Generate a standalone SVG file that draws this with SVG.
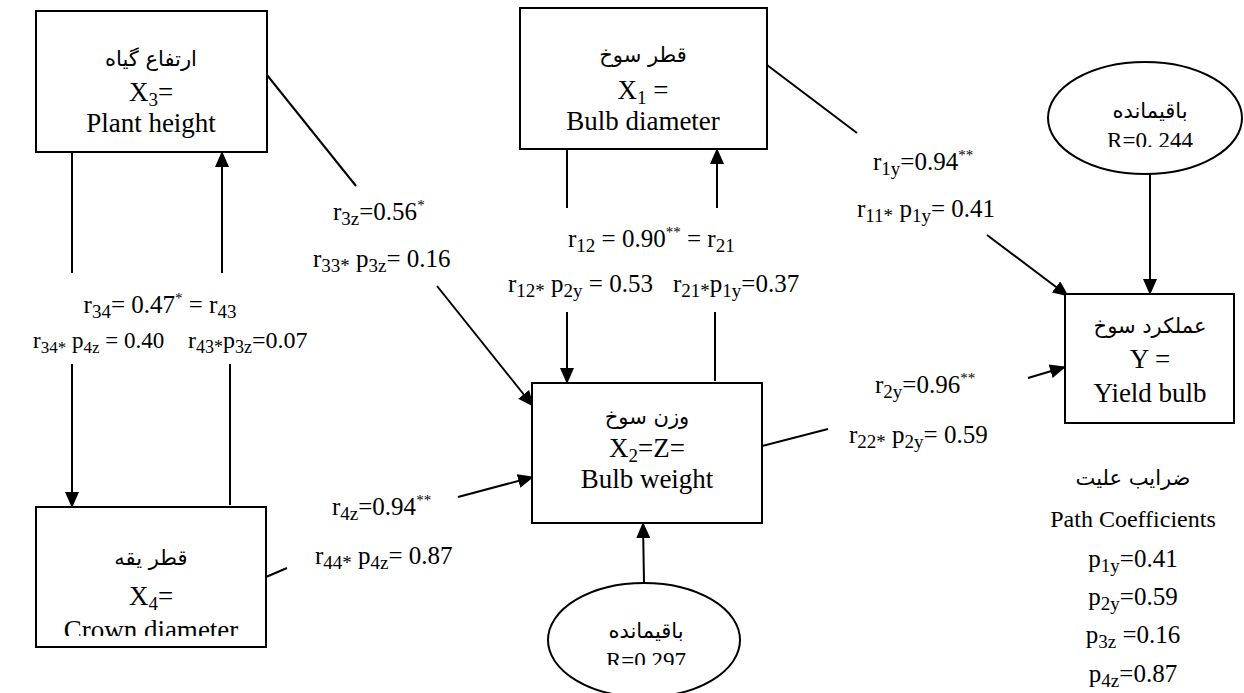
<svg xmlns="http://www.w3.org/2000/svg" width="1244" height="693" viewBox="0 0 1244 693">
<style>
.box{fill:#fff;stroke:#000;stroke-width:2}
.ln{fill:none;stroke:#000;stroke-width:2}
.t{font-family:'Liberation Serif','DejaVu Serif',serif;font-size:25px;fill:#000}
.bt{font-family:'Liberation Serif','DejaVu Serif',serif;font-size:27px;fill:#000;text-anchor:middle}
.ar{font-family:'DejaVu Sans','Noto Sans',sans-serif;font-size:21px;fill:#000;text-anchor:middle}
.s{font-size:19px;baseline-shift:-5px}
.p{font-size:15px;baseline-shift:10px}
.m{text-anchor:middle}
.sm{font-size:23px}
.sm .s{font-size:17px}
.md{font-size:24px}
.md .s{font-size:18px}
</style>
<defs>
<marker id="ah" markerWidth="16" markerHeight="14" refX="15" refY="7" orient="auto" markerUnits="userSpaceOnUse">
<path d="M0,0 L16,7 L0,14 Z" fill="#000"/>
</marker>
<clipPath id="c4"><rect x="30" y="500" width="250" height="136"/></clipPath>
<clipPath id="ce1"><rect x="1040" y="55" width="204" height="92"/></clipPath>
<clipPath id="ce2"><rect x="540" y="575" width="210" height="90"/></clipPath>
</defs>
<rect width="1244" height="693" fill="#fff"/>

<g id="connectors">
<line class="ln" x1="72" y1="152" x2="72" y2="273"/>
<line class="ln" x1="222" y1="273" x2="222" y2="152" marker-end="url(#ah)"/>
<line class="ln" x1="72" y1="364" x2="72" y2="507" marker-end="url(#ah)"/>
<line class="ln" x1="230" y1="364" x2="230" y2="505"/>
<line class="ln" x1="267" y1="75" x2="356" y2="186"/>
<line class="ln" x1="437" y1="286" x2="533" y2="406" marker-end="url(#ah)"/>
<line class="ln" x1="266" y1="577" x2="287" y2="568"/>
<line class="ln" x1="458" y1="497" x2="533" y2="477" marker-end="url(#ah)"/>
<line class="ln" x1="567" y1="149" x2="567" y2="208"/>
<line class="ln" x1="717" y1="208" x2="717" y2="149" marker-end="url(#ah)"/>
<line class="ln" x1="567" y1="312" x2="567" y2="383" marker-end="url(#ah)"/>
<line class="ln" x1="715" y1="312" x2="715" y2="381"/>
<line class="ln" x1="644" y1="583" x2="643" y2="523" marker-end="url(#ah)"/>
<line class="ln" x1="767" y1="65" x2="857" y2="133"/>
<line class="ln" x1="987" y1="235" x2="1068" y2="296" marker-end="url(#ah)"/>
<line class="ln" x1="762" y1="446" x2="828" y2="429"/>
<line class="ln" x1="1028" y1="378" x2="1065" y2="367" marker-end="url(#ah)"/>
<line class="ln" x1="1150" y1="174" x2="1150" y2="294" marker-end="url(#ah)"/>
</g>

<g id="node-x3">
<rect class="box" x="36" y="11" width="231" height="141"/>
<text class="ar" x="151" y="66">ارتفاع گیاه</text>
<text class="bt" x="151" y="101">X<tspan class="s">3</tspan>=</text>
<text class="bt" x="151" y="132">Plant height</text>
</g>

<g id="node-x1">
<rect class="box" x="520" y="8" width="247" height="141"/>
<text class="ar" x="643" y="62">قطر سوخ</text>
<text class="bt" x="643" y="99">X<tspan class="s">1</tspan> =</text>
<text class="bt" x="643" y="130">Bulb diameter</text>
</g>

<g id="node-x4">
<rect class="box" x="36" y="507" width="230" height="140"/>
<text class="ar" x="151" y="565">قطر يقه</text>
<text class="bt" x="151" y="605">X<tspan class="s">4</tspan>=</text>
<text class="bt" x="151" y="639" clip-path="url(#c4)">Crown diameter</text>
</g>

<g id="node-x2">
<rect class="box" x="532" y="383" width="230" height="140"/>
<text class="ar" x="647" y="424">وزن سوخ</text>
<text class="bt" x="647" y="457">X<tspan class="s">2</tspan>=Z=</text>
<text class="bt" x="647" y="488">Bulb weight</text>
</g>

<g id="node-y">
<rect class="box" x="1065" y="294" width="169" height="129"/>
<text class="ar" x="1150" y="333">عملکرد سوخ</text>
<text class="bt" x="1150" y="368">Y =</text>
<text class="bt" x="1150" y="402">Yield bulb</text>
</g>

<g id="node-res1">
<ellipse class="box" cx="1145" cy="118" rx="97" ry="56"/>
<text class="ar" x="1150" y="118">باقیمانده</text>
<text class="bt" x="1150" y="148" clip-path="url(#ce1)" style="font-size:23px">R=0. 244</text>
</g>

<g id="node-res2">
<ellipse class="box" cx="644" cy="640" rx="96" ry="57"/>
<text class="ar" x="646" y="638">باقیمانده</text>
<text class="bt" x="646" y="668" clip-path="url(#ce2)" style="font-size:23px">R=0.297</text>
</g>

<g id="labels">
<text class="t m" x="160" y="313">r<tspan class="s">34</tspan>= 0.47<tspan class="p">*</tspan> = r<tspan class="s">43</tspan></text>
<text class="t sm" x="33" y="348">r<tspan class="s">34*</tspan> p<tspan class="s">4z</tspan> = 0.40</text>
<text class="t md" x="188" y="348">r<tspan class="s">43*</tspan>p<tspan class="s">3z</tspan>=0.07</text>
<text class="t" x="333" y="220">r<tspan class="s">3z</tspan>=0.56<tspan class="p">*</tspan></text>
<text class="t" x="313" y="267">r<tspan class="s">33*</tspan> p<tspan class="s">3z</tspan>= 0.16</text>
<text class="t" x="568" y="247">r<tspan class="s">12</tspan> = 0.90<tspan class="p">**</tspan> = r<tspan class="s">21</tspan></text>
<text class="t" x="508" y="292">r<tspan class="s">12*</tspan> p<tspan class="s">2y</tspan> = 0.53</text>
<text class="t" x="673" y="292">r<tspan class="s">21*</tspan>p<tspan class="s">1y</tspan>=0.37</text>
<text class="t" x="873" y="170">r<tspan class="s">1y</tspan>=0.94<tspan class="p">**</tspan></text>
<text class="t" x="857" y="217">r<tspan class="s">11*</tspan> p<tspan class="s">1y</tspan>= 0.41</text>
<text class="t" x="875" y="393">r<tspan class="s">2y</tspan>=0.96<tspan class="p">**</tspan></text>
<text class="t" x="849" y="443">r<tspan class="s">22*</tspan> p<tspan class="s">2y</tspan>= 0.59</text>
<text class="t" x="332" y="515">r<tspan class="s">4z</tspan>=0.94<tspan class="p">**</tspan></text>
<text class="t" x="315" y="564">r<tspan class="s">44*</tspan> p<tspan class="s">4z</tspan>= 0.87</text>
</g>

<g id="legend">
<text class="ar" x="1133" y="485">ضرایب  علیت</text>
<text class="t m" x="1133" y="527" style="font-size:24px">Path Coefficients</text>
<text class="t m" x="1133" y="567">p<tspan class="s">1y</tspan>=0.41</text>
<text class="t m" x="1133" y="605">p<tspan class="s">2y</tspan>=0.59</text>
<text class="t m" x="1133" y="643">p<tspan class="s">3z</tspan> =0.16</text>
<text class="t m" x="1133" y="682">p<tspan class="s">4z</tspan>=0.87</text>
</g>
</svg>
